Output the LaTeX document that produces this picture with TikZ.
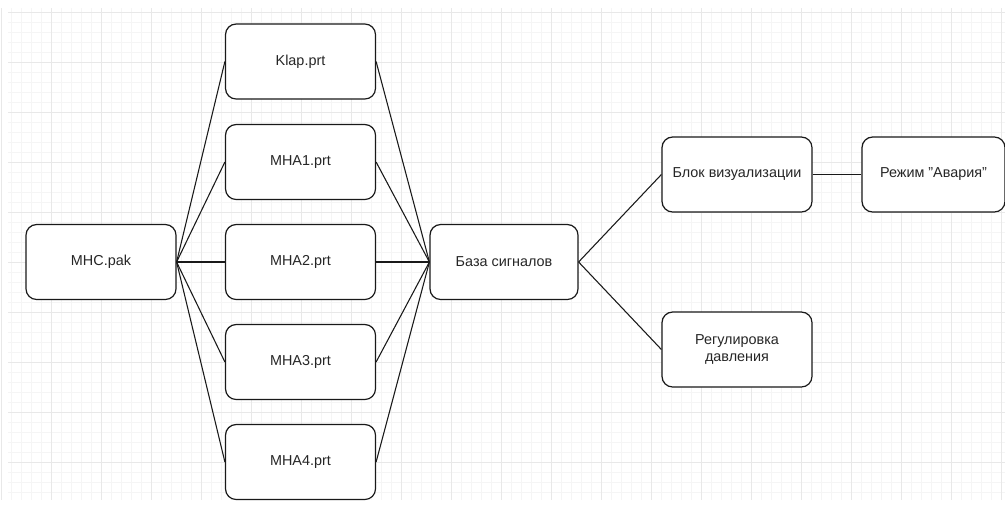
\documentclass[tikz,border=0pt]{standalone}
\usepackage{fontspec}
\setmainfont{Liberation Sans}
\begin{document}
\begin{tikzpicture}[x=0.75pt,y=-0.75pt,
  box/.style={draw=black!90, line width=0.9pt, rounded corners=8pt, fill=white,
    minimum width=150*0.75pt, minimum height=75*0.75pt, inner sep=2pt,
    align=center, font=\fontsize{10.8}{13}\selectfont, text=black!85},
  link/.style={draw=black!90, line width=0.8pt}]
\useasboundingbox (0,0) rectangle (1005,508);
\fill[white] (0,0) rectangle (1005,508);
% grid
\foreach \x in {11.5,21.5,...,1001.5} \draw[black!4, line width=0.75pt] (\x,8) -- (\x,500);
\foreach \y in {22,32,...,492} \draw[black!4, line width=0.75pt] (8,\y) -- (1005,\y);
\foreach \x in {1.5,51.5,...,1001.5} \draw[black!9, line width=0.75pt] (\x,8) -- (\x,500);
\foreach \y in {12,62,...,462} \draw[black!9, line width=0.75pt] (8,\y) -- (1005,\y);
% nodes
\node[box] (mhc) at (101,262) {MHC.pak};
\node[box] (klap) at (300.5,61.5) {Klap.prt};
\node[box] (m1) at (300.5,162) {MHA1.prt};
\node[box] (m2) at (300.5,262) {MHA2.prt};
\node[box] (m3) at (300.5,362) {MHA3.prt};
\node[box] (m4) at (300.5,462) {MHA4.prt};
\node[box, minimum width=148*0.75pt] (baza) at (504,262) {База сигналов};
\node[box] (blok) at (737,174.5) {Блок визуализации};
\node[box, minimum width=143*0.75pt] (rezhim) at (933.5,174.5) {Режим "Авария"};
\node[box] (reg) at (737,349.5) {Регулировка\\давления};
% links
\foreach \n in {klap,m1,m2,m3,m4} {
  \draw[link] (mhc.east) -- (\n.west);
  \draw[link] (\n.east) -- (baza.west);
}
\draw[link] (baza.east) -- (blok.west);
\draw[link] (baza.east) -- (reg.west);
\draw[link] (blok.east) -- (rezhim.west);
\end{tikzpicture}
\end{document}
